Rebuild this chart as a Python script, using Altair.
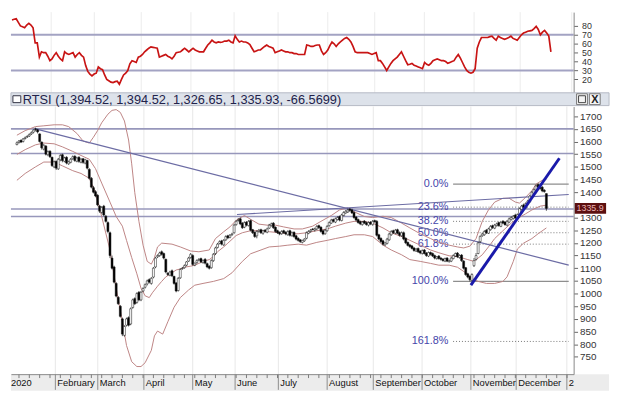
import altair as alt
import pandas as pd

# ---------------- data ----------------
closes = [1595,1602,1598,1610,1615,1620,1628,1635,1645,1648,
          1638,1600,1575,1585,1550,1560,1540,1505,1520,1495,
          1530,1545,1525,1535,1515,1520,1530,1540,1525,1535,
          1522,1530,1518,1528,1495,1455,1420,1400,1385,1350,
          1325,1340,1310,1285,1245,1150,1100,1045,990,960,
          910,840,870,900,875,940,975,960,1000,975,
          1005,1020,1035,1050,1045,1060,1100,1140,1150,1160,
          1155,1140,1085,1075,1085,1070,1040,1010,1060,1095,
          1100,1110,1125,1140,1155,1115,1120,1130,1135,1125,
          1130,1120,1105,1100,1130,1155,1180,1195,1205,1195,
          1210,1225,1220,1230,1235,1270,1285,1290,1275,1260,
          1280,1270,1285,1250,1240,1225,1245,1250,1240,1248,
          1245,1255,1270,1275,1260,1245,1240,1235,1245,1240,
          1235,1245,1230,1240,1225,1215,1210,1205,1210,1215,
          1240,1245,1250,1252,1255,1265,1260,1245,1235,1250,
          1265,1280,1290,1285,1295,1300,1290,1310,1320,1325,
          1330,1328,1318,1300,1290,1280,1275,1282,1278,1272,
          1280,1275,1285,1283,1230,1215,1205,1195,1200,1215,
          1235,1245,1240,1250,1238,1230,1240,1215,1200,1190,
          1185,1178,1170,1175,1165,1160,1170,1158,1150,1162,
          1155,1148,1140,1145,1138,1135,1130,1138,1128,1130,
          1140,1150,1158,1145,1150,1130,1100,1075,1065,1055,
          1075,1130,1150,1200,1225,1235,1245,1240,1255,1265,
          1260,1270,1275,1268,1280,1278,1272,1285,1295,1300,
          1305,1298,1312,1335,1345,1340,1355,1365,1385,1400,
          1410,1425,1420,1415,1405,1402.4999,1335.93]
opens = [1588,1596,1605,1600,1612,1618,1622,1630,1637,1650,
         1646,1630,1598,1570,1582,1548,1562,1538,1500,1522,
         1492,1528,1548,1522,1538,1512,1518,1532,1542,1522,
         1538,1518,1532,1515,1525,1490,1455,1418,1402,1388,
         1345,1320,1345,1305,1280,1240,1140,1105,1040,985,
         950,900,835,875,905,880,945,980,965,1005,
         975,1010,1025,1038,1055,1040,1065,1105,1145,1150,
         1165,1158,1135,1080,1072,1090,1068,1042,1012,1062,
         1098,1102,1112,1128,1142,1150,1112,1122,1132,1138,
         1122,1135,1118,1108,1102,1130,1158,1182,1198,1208,
         1192,1212,1228,1222,1232,1240,1272,1288,1295,1278,
         1262,1282,1268,1288,1252,1242,1228,1245,1252,1238,
         1250,1242,1258,1268,1278,1262,1248,1242,1236,1248,
         1242,1232,1248,1228,1242,1228,1218,1212,1202,1208,
         1218,1238,1245,1255,1250,1255,1268,1262,1248,1236,
         1248,1268,1278,1292,1282,1292,1304,1288,1308,1318,
         1322,1333,1330,1320,1302,1292,1284,1272,1286,1280,
         1270,1282,1272,1288,1285,1232,1218,1208,1192,1198,
         1212,1232,1248,1238,1252,1240,1228,1240,1218,1202,
         1192,1188,1180,1168,1178,1168,1158,1172,1160,1148,
         1162,1158,1150,1138,1148,1140,1136,1128,1140,1126,
         1128,1138,1148,1160,1142,1152,1128,1102,1078,1068,
         1052,1110,1135,1158,1205,1228,1232,1250,1238,1252,
         1268,1258,1268,1280,1265,1285,1282,1270,1282,1292,
         1296,1310,1296,1310,1332,1350,1338,1352,1362,1382,
         1395,1408,1430,1418,1420,1408,1394.52]
highs = [1600,1606,1608,1614,1620,1625,1632,1640,1648,1655,
         1650,1632,1600,1590,1586,1565,1565,1540,1525,1525,
         1535,1550,1552,1540,1542,1525,1535,1545,1546,1540,
         1542,1535,1535,1532,1528,1495,1460,1425,1408,1392,
         1350,1345,1350,1310,1285,1245,1150,1110,1045,990,
         955,905,875,905,910,945,980,985,1005,1010,
         1010,1025,1040,1055,1060,1065,1105,1145,1155,1165,
         1170,1162,1138,1085,1090,1095,1070,1045,1065,1100,
         1105,1115,1128,1145,1160,1155,1122,1135,1140,1142,
         1135,1140,1122,1112,1135,1160,1185,1200,1210,1212,
         1215,1230,1232,1235,1240,1275,1290,1298,1300,1282,
         1285,1286,1290,1292,1255,1245,1250,1255,1256,1252,
         1255,1260,1275,1280,1282,1265,1252,1245,1250,1252,
         1246,1250,1252,1245,1245,1232,1222,1215,1212,1218,
         1245,1250,1255,1258,1260,1270,1272,1265,1252,1255,
         1270,1285,1295,1296,1300,1305,1308,1315,1325,1330,
         1335,1338,1335,1325,1306,1296,1288,1286,1290,1284,
         1285,1286,1290,1292,1290,1236,1222,1212,1202,1220,
         1240,1250,1252,1255,1256,1245,1245,1245,1222,1205,
         1196,1192,1184,1180,1182,1172,1174,1176,1164,1166,
         1166,1162,1154,1148,1152,1144,1140,1142,1144,1134,
         1145,1155,1162,1164,1155,1156,1132,1105,1082,1072,
         1080,1140,1160,1205,1230,1240,1250,1255,1260,1270,
         1272,1275,1280,1284,1285,1290,1286,1290,1300,1305,
         1310,1315,1316,1340,1350,1355,1360,1370,1390,1405,
         1415,1430,1435,1424,1425,1412,1394.52]
lows = [1585,1592,1594,1596,1608,1614,1618,1626,1632,1640,
        1632,1596,1568,1565,1545,1542,1535,1500,1495,1488,
        1488,1522,1518,1518,1510,1508,1514,1528,1520,1518,
        1516,1514,1512,1510,1490,1450,1415,1395,1380,1345,
        1318,1315,1305,1280,1238,1140,1095,1040,985,955,
        905,832,830,870,870,875,940,955,960,970,
        970,1005,1020,1032,1040,1035,1060,1100,1140,1145,
        1150,1135,1080,1070,1068,1065,1035,1005,1008,1058,
        1094,1098,1108,1125,1138,1110,1108,1118,1128,1120,
        1118,1115,1100,1095,1098,1125,1152,1178,1194,1190,
        1188,1208,1215,1218,1228,1236,1268,1284,1270,1255,
        1258,1265,1265,1245,1235,1220,1218,1240,1235,1232,
        1240,1238,1255,1264,1255,1240,1235,1230,1232,1236,
        1230,1228,1225,1225,1220,1210,1205,1200,1198,1204,
        1214,1234,1240,1250,1245,1250,1255,1240,1230,1232,
        1244,1264,1275,1280,1278,1288,1285,1285,1305,1315,
        1318,1322,1314,1295,1285,1276,1270,1268,1274,1268,
        1265,1270,1268,1280,1225,1210,1200,1190,1188,1194,
        1208,1228,1235,1234,1234,1225,1224,1210,1195,1186,
        1180,1174,1165,1164,1160,1155,1154,1154,1145,1144,
        1150,1144,1135,1134,1134,1130,1126,1124,1124,1122,
        1124,1135,1144,1140,1138,1125,1095,1070,1060,1048,
        1048,1105,1130,1155,1200,1224,1228,1235,1235,1248,
        1255,1254,1264,1264,1262,1274,1268,1266,1278,1288,
        1292,1294,1292,1306,1328,1335,1334,1348,1358,1378,
        1390,1404,1415,1410,1400,1398,1326.65]
rsi = [86.7,87.5,88,84,80,79,78,81,83,81,
       78,61,61,45,51,50,50,46,41,43,
       47,50,46,43,41,51,49,48,49,50,
       45,48,50,47,45,35.5,29,26,24,26,
       27,34,32,31,25,20,18.5,17,16.5,17.5,
       18,14.5,20,25,27,30,37.5,41,40,39,
       45,46,48,51,53,55,56.5,56,55.5,55,
       45,46,47,48,46,45,43,46,50,50.5,
       51,53,55,53,51,53,55,53,52,51,
       51,51,55,58.6,61,64,62,61,62,61.5,
       62,63,63,64,62,61,69,65,62,63,
       62,62,61,59,55,51,52,53,53,55,
       57,58.6,57,56,55,50,51,52,53,52,
       51,51,50,50,49,49,48,48,48,48,
       58.6,58,57,57,58,58.6,58.6,52,48,50,
       53,58,62,60,57,60,62,64,66,67,
       65,62,57,51,50,50,50,50,50,50,
       49,48,49,50,41,41,38,34,30,34,
       38,41,43,45,48,51,46,41,36.5,37,
       38,36,35,34,33,32,39,37,36,38,
       41,42,43,42,41,41,40,38,39,40,
       41,45,48,44,39,34,30,28,27,28,
       32,55,62,67,67,67,67,68,68.6,66,
       64,68.6,67,66,65,66,67,68.6,66,65,
       64,67,70,72,73,74,74.5,75,77,79.5,
       76,70,73,75,72,68.6,51]

upper_day = [0,4,9,13,18,22,25,29,32,35,37,39,41,44,46,48,50,52,54,55.5,57,59,61,63,65,66.5,68,70,75,79,84,88,93,96,100,103,106,110,113,117,121,125,129,134,138,143,147,152,156,160,163,168,172,177,181,186,190,195,200,204,209,213,216,219,222,225,228,231,235,238,241,243,246,249,251,254,256]
upper_val = [1625,1643,1659,1662,1666,1666,1659,1632,1602,1594,1617,1643,1674,1708,1723,1726,1715,1681,1606,1512,1398,1285,1191,1127,1116,1142,1184,1199,1195,1184,1168,1165,1172,1217,1244,1263,1289,1308,1293,1274,1270,1270,1263,1255,1255,1266,1285,1308,1330,1338,1323,1304,1300,1305,1300,1278,1259,1236,1217,1202,1191,1184,1180,1187,1217,1285,1330,1361,1376,1376,1361,1357,1380,1406,1432,1447,1451]
middle_day = [0,4,9,13,18,22,27,31,35,38,41,45,48,51,53,55.5,58,60,62,64,65.5,68,70,72,75,77,79,81,84,86,88,90,93,95,97,100,102,104,106,109,113,118,122,127,131,136,140,145,150,154,159,163,168,172,177,181,186,190,195,200,204,209,213,218,221,225,228,231,235,239,242,246,249,253,256]
middle_val = [1549,1568,1587,1594,1591,1579,1561,1545,1530,1493,1436,1361,1304,1266,1210,1142,1078,1021,991,984,1003,1029,1048,1066,1082,1093,1097,1104,1108,1112,1119,1127,1134,1146,1165,1184,1199,1214,1229,1240,1248,1248,1244,1240,1236,1236,1240,1248,1255,1266,1278,1285,1285,1278,1259,1240,1225,1210,1191,1172,1161,1149,1146,1134,1127,1153,1184,1217,1248,1278,1296,1315,1330,1345,1349]
lower_day = [0,4,9,13,18,22,27,31,35,38,41,45,48,51,53,55.5,58,60,62,65,66.5,68,70.5,73,76,79,83,86,90,95,100,104,109,113,118,122,127,131,136,140,145,150,154,159,163,168,172,177,181,186,190,195,200,204,209,213,217,220,223,227,231,235,237,240,242,245,249,252,256]
lower_val = [1447,1474,1500,1519,1519,1504,1485,1474,1455,1398,1304,1172,1021,889,795,731,712,712,727,776,833,852,840,889,946,984,1014,1033,1040,1048,1059,1082,1127,1157,1172,1184,1187,1191,1195,1191,1202,1210,1217,1225,1232,1232,1225,1191,1172,1153,1134,1127,1119,1112,1112,1104,1082,1059,1048,1040,1040,1048,1066,1127,1176,1199,1217,1236,1259]

month_pos = [18.6, 39.1, 61.4, 85, 105.5, 126.4, 150, 172.3, 195.9, 219.5, 241.4, 265.9]
month_names = ["February", "March", "April", "May", "June", "July", "August",
               "September", "October", "November", "December", "2"]
year_label = "2020"
week_pos = [1, 6, 11, 16, 21, 26, 31, 36, 41, 46, 51, 56, 61, 66, 71, 76, 81, 86, 91, 96,
            101, 106, 111, 116, 121, 126, 131, 136, 141, 146, 151, 156, 161, 166, 171, 176,
            181, 186, 191, 196, 201, 206, 211, 216, 221, 226, 231, 236, 241, 246, 251, 256, 261, 266]
# 1350 is hidden behind the last-price box in the reference
price_ticks = [750, 800, 850, 900, 950, 1000, 1050, 1100, 1150, 1200, 1250, 1300,
               1400, 1450, 1500, 1550, 1600, 1650, 1700]
rsi_ticks = [20, 30, 40, 50, 60, 70, 80]
hlines = [1650, 1553, 1334, 1304]
rsi_levels = [70, 30]
fib_levels = [1432, 1341, 1285, 1240, 1195, 1048, 811]
fib_labels = ["0.0%", "23.6%", "38.2%", "50.0%", "61.8%", "100.0%", "161.8%"]
fib_solid = [True, False, False, False, False, True, False]
fib_start_day = 210.9
fib_label_day = 208.6
trend_a_day = [9, 266.8]
trend_a_price = [1650, 1112]
trend_b_day = [106.4, 266.8]
trend_b_price = [1312, 1391]
trend_c_day = [219.5, 262.3]
trend_c_price = [1033, 1534]

# ---------------- layout ----------------
W, HR, HM = 572, 82, 272
XD = [-0.5, 266.8]
FONT = "Liberation Sans"

xs = alt.Scale(domain=XD, nice=False, zero=False)
ys = alt.Scale(domain=[682, 1738], nice=False, zero=False)
rs = alt.Scale(domain=[5, 95.5], nice=False, zero=False)

label_expr = "[" + ",".join("'%s'" % m for m in month_names) + "][indexof([" + \
    ",".join(str(p) for p in month_pos) + "], datum.value)]"
x_axis = alt.Axis(values=month_pos, labelExpr=label_expr, labelAlign="left",
                  labelBaseline="top", labelPadding=4, labelOffset=1.5, tickSize=0,
                  domain=True, domainColor="#8a8a8a", grid=False, labelFont=FONT,
                  labelFontSize=9.5, labelColor="#111111", title=None, zindex=1,
                  labelFlush=False, labelOverlap=False, labelBound=False)
y_axis = alt.Axis(orient="right", values=price_ticks, format="d", tickSize=4,
                  tickColor="#666666", domainColor="#888888", labelFont=FONT,
                  labelFontSize=10, labelColor="#333333", labelPadding=2,
                  grid=False, title=None, zindex=1, labelOverlap=False)
r_axis = alt.Axis(orient="right", values=rsi_ticks, format="d", tickSize=4,
                  tickColor="#666666", domainColor="#888888", labelFont=FONT,
                  labelFontSize=9, labelColor="#333333", labelPadding=4,
                  grid=False, title=None, zindex=1, labelOverlap=False)


def X(f):
    return alt.X(f, type="quantitative", scale=xs, axis=x_axis)


def XR(f):
    return alt.X(f, type="quantitative", scale=xs, axis=None)


def Y(f):
    return alt.Y(f, type="quantitative", scale=ys, axis=y_axis)


def YR(f):
    return alt.Y(f, type="quantitative", scale=rs, axis=r_axis)


one = pd.DataFrame({"k": [0]})
n = len(closes)
candles = pd.DataFrame({"day": list(range(n)), "open": opens, "high": highs,
                        "low": lows, "close": closes})
bands = pd.concat([
    pd.DataFrame({"day": upper_day, "value": upper_val, "band": "upper"}),
    pd.DataFrame({"day": middle_day, "value": middle_val, "band": "middle"}),
    pd.DataFrame({"day": lower_day, "value": lower_val, "band": "lower"}),
])
trends = pd.concat([
    pd.DataFrame({"day": trend_a_day, "price": trend_a_price, "id": "a"}),
    pd.DataFrame({"day": trend_b_day, "price": trend_b_price, "id": "b"}),
])
trend_blue = pd.DataFrame({"day": trend_c_day, "price": trend_c_price})
fib = pd.DataFrame({"level": fib_levels, "label": fib_labels, "solid": fib_solid,
                    "start": fib_start_day, "end": XD[1], "lx": fib_label_day})
months = pd.DataFrame({"day": month_pos})
weeks = pd.DataFrame({"day": week_pos})
last = pd.DataFrame({"p": [closes[-1]], "t": ["%.1f" % closes[-1]]})

header_text = "RTSI (%s, %s, %s, %s, %.4f)" % (
    format(opens[-1], ",.2f"), format(highs[-1], ",.2f"), format(lows[-1], ",.2f"),
    format(closes[-1], ",.2f"), closes[-1] - closes[-2])

# ---------------- main panel ----------------
grid_m = alt.Chart(months).mark_rule(color="#e8e8e8", strokeWidth=1).encode(
    x=X("day"), y=alt.value(0), y2=alt.value(HM))
hl = alt.Chart(pd.DataFrame({"p": hlines})).mark_rule(
    color="#9797bb", strokeWidth=1.6).encode(y=Y("p"))
fib_s = alt.Chart(fib).transform_filter("datum.solid").mark_rule(
    color="#8e8e8e", strokeWidth=1.2).encode(x=X("start"), x2="end", y=Y("level"))
fib_d = alt.Chart(fib).transform_filter("!datum.solid").mark_rule(
    color="#777777", strokeWidth=1, strokeDash=[1, 2]).encode(
    x=X("start"), x2="end", y=Y("level"))
fib_t = alt.Chart(fib).mark_text(align="right", baseline="middle", font=FONT,
                                 fontSize=11, color="#4545aa").encode(
    x=X("lx"), y=Y("level"), text="label")
band_l = alt.Chart(bands).mark_line(color="#bd8484", strokeWidth=1).encode(
    x=X("day"), y=Y("value"), detail="band:N")
trend_l = alt.Chart(trends).mark_line(color="#6c6ca4", strokeWidth=1.2).encode(
    x=X("day"), y=Y("price"), detail="id:N")
blue_l = alt.Chart(trend_blue).mark_line(color="#1a1aaa", strokeWidth=3).encode(
    x=X("day"), y=Y("price"))
wick = alt.Chart(candles).mark_rule(color="#111111", strokeWidth=0.7).encode(
    x=X("day"), y=Y("low"), y2="high")
body = alt.Chart(candles).mark_bar(size=2, stroke="#111111", strokeWidth=0.5).encode(
    x=X("day"), y=Y("open"), y2="close",
    fill=alt.condition("datum.close >= datum.open", alt.value("white"), alt.value("black")))
axis_band = alt.Chart(one).mark_rect(fill="#ececec").encode(
    x=alt.value(0), x2=alt.value(W + 36), y=alt.value(HM), y2=alt.value(HM + 17))
sep = alt.Chart(months).mark_rule(color="#8c8c8c", strokeWidth=1).encode(
    x=X("day"), y=alt.value(HM), y2=alt.value(HM + 16))
wk = alt.Chart(weeks).mark_rule(color="#7a7a7a", strokeWidth=1).encode(
    x=X("day"), y=alt.value(HM), y2=alt.value(HM + 4))
year_t = alt.Chart(one).mark_text(align="left", baseline="top", font=FONT,
                                  fontSize=9.5, color="#111111").encode(
    x=alt.value(0), y=alt.value(HM + 4), text=alt.value(year_label))
head = alt.Chart(one).mark_rect(fill="#dde2ea", stroke="#b5bac4", strokeWidth=1).encode(
    x=alt.value(0), x2=alt.value(W + 36), y=alt.value(-14), y2=alt.value(-1))
head_icon = alt.Chart(one).mark_rect(fill="white", stroke="#333344", strokeWidth=1).encode(
    x=alt.value(2), x2=alt.value(10), y=alt.value(-11), y2=alt.value(-4))
head_t = alt.Chart(one).mark_text(align="left", baseline="middle", font=FONT,
                                  fontSize=13, color="#22224a").encode(
    x=alt.value(12), y=alt.value(-7), text=alt.value(header_text))
btn1 = alt.Chart(one).mark_rect(fill="#f4f4f4", stroke="#777777", strokeWidth=1).encode(
    x=alt.value(W + 3), x2=alt.value(W + 14), y=alt.value(-13), y2=alt.value(-2))
btn1i = alt.Chart(one).mark_rect(fill="#f4f4f4", stroke="#444444", strokeWidth=1).encode(
    x=alt.value(W + 5), x2=alt.value(W + 12), y=alt.value(-11), y2=alt.value(-4))
btn2 = alt.Chart(one).mark_rect(fill="#f4f4f4", stroke="#777777", strokeWidth=1).encode(
    x=alt.value(W + 16), x2=alt.value(W + 27), y=alt.value(-13), y2=alt.value(-2))
btn2t = alt.Chart(one).mark_text(align="center", baseline="middle", font=FONT,
                                 fontSize=11, fontWeight="bold", color="#222222").encode(
    x=alt.value(W + 21.5), y=alt.value(-7), text=alt.value("X"))
plab = alt.Chart(last).mark_rule(color="#5c1010", strokeWidth=11).encode(
    x=alt.value(W + 1), x2=alt.value(W + 33), y=Y("p"))
plab_t = alt.Chart(last).mark_text(align="left", baseline="middle", font=FONT,
                                   fontSize=9, color="#e9b4b4").encode(
    x=alt.value(W + 3), y=Y("p"), text="t")

main = alt.layer(grid_m, hl, fib_s, fib_d, fib_t, band_l, trend_l, wick, body, blue_l,
                 axis_band, sep, wk, year_t, head, head_icon, head_t,
                 btn1, btn1i, btn2, btn2t, plab, plab_t).properties(width=W, height=HM)

# ---------------- RSI panel ----------------
grid_r = alt.Chart(months).mark_rule(color="#ececec", strokeWidth=1).encode(
    x=XR("day"), y=alt.value(0), y2=alt.value(HR))
rl = alt.Chart(pd.DataFrame({"r": rsi_levels})).mark_rule(
    color="#a3a3c3", strokeWidth=2).encode(y=YR("r"))
rsi_df = pd.DataFrame({"day": list(range(n)), "rsi": rsi})
rline = alt.Chart(rsi_df).mark_line(color="#c81414", strokeWidth=1.7).encode(
    x=XR("day"), y=YR("rsi"))
rsi_chart = alt.layer(grid_r, rl, rline).properties(width=W, height=HR)

chart = alt.vconcat(rsi_chart, main, spacing=14, bounds="flush").properties(
    padding=0).configure_view(strokeWidth=0)

chart.save("out.html", embed_options={"renderer": "svg", "actions": False})
